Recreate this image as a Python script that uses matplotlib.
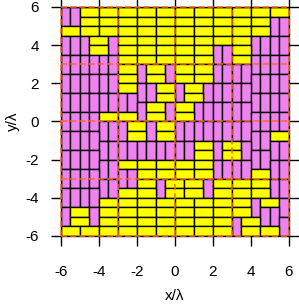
import matplotlib
matplotlib.use("Agg")
import matplotlib.pyplot as plt
from matplotlib.patches import Rectangle

# domino tiling on a 24x24 lattice of half-wavelength cells, top row first
# 'y' = cell of a horizontal (yellow) domino, 'v' = cell of a vertical (violet) domino
TILES = [
    "vvyyyyyyyyyyyyyyyyyyyyyy",
    "vvyyyyyyyyyyyyyyyyyyyyvv",
    "yyyyyyyyyyyyyyyyyyyyyyvv",
    "vvvyyvyyyyyyyyyyyyyyvvvv",
    "vvvyyvyyyyyyyyyyvvyyvvvv",
    "vvvvvvyyyyyyyyyyvvyyvvvv",
    "vvvvvvyyvyyvyyyyvvvvvvvv",
    "vvvvvvyyvyyvyyyyvvvvvvvv",
    "vvvvvvyyvvyyvyyvvvvvvvvv",
    "vvvvvvvvvvyyvyyvvvvvvvvv",
    "vvvvvvvvvyyvyyvvvvvvvvvv",
    "vvvvyyyyvyyvyyvvvvvvvvvv",
    "vvvvvvvyyvyyvvvvvvvvvvvv",
    "vvvvvvvyyvyyvvvvvvvvvvyy",
    "vvvvvvvvvvvvvvyyvyyvvvvv",
    "vvvvvvvvvvvvvvyyvyyvvvvv",
    "vvvvvvyyyyyyyyyyvvvvvvvv",
    "vvvvvvvvyyyyyyyyvvvvyyvv",
    "vvvvvvvvyyvyyyyvyyyyyyvv",
    "vvvvvvyyyyvyyyyvyyyyyyvv",
    "vvvvyyyyyyyyyyyyyyyyvyyv",
    "vyyvyyyyyyyyyyyyyyyyvvvv",
    "vyyvyyyyyyyyyyyyyyvyyvvv",
    "yyyyyyyyyyyyyyyyyyvyyyyv",
]
CELL = 0.5
X_MIN, Y_MAX = -6.0, 6.0
TICKS = [-6, -4, -2, 0, 2, 4, 6]
GRID_AT = [-3, 0, 3]

YELLOW = "#ffff00"
VIOLET = "#ee82ee"
ORANGE = "#ff6a1a"


def dominoes(tiles):
    rows, cols = len(tiles), len(tiles[0])
    used = [[False] * cols for _ in range(rows)]
    out = []
    for r in range(rows):
        for c in range(cols):
            if used[r][c]:
                continue
            if tiles[r][c] == "y":
                used[r][c] = used[r][c + 1] = True
                out.append(("h", r, c))
            else:
                used[r][c] = used[r + 1][c] = True
                out.append(("v", r, c))
    return out


plt.rcParams["font.family"] = ["Liberation Sans", "DejaVu Sans"]
fig = plt.figure(figsize=(2.99, 3.06), dpi=100)
ax = fig.add_axes([0.204, 0.2288, 0.7625, 0.7484])

for kind, r, c in dominoes(TILES):
    x = X_MIN + CELL * c
    if kind == "h":
        w, h, color = 2 * CELL, CELL, YELLOW
    else:
        w, h, color = CELL, 2 * CELL, VIOLET
    y = Y_MAX - CELL * r - h
    ax.add_patch(Rectangle((x, y), w, h, facecolor=color, edgecolor="black", linewidth=1.0))

for g in GRID_AT:
    ax.axvline(g, color=ORANGE, linewidth=1.1, linestyle=(0, (4, 2)), zorder=5)
    ax.axhline(g, color=ORANGE, linewidth=1.1, linestyle=(0, (4, 2)), zorder=5)
for g in (-6, 6):
    ax.axvline(g, color=ORANGE, linewidth=1.1, linestyle=(0, (4, 2)), zorder=6, clip_on=False)
    ax.axhline(g, color=ORANGE, linewidth=1.1, linestyle=(0, (4, 2)), zorder=6, clip_on=False)

ax.set_xlim(-6, 6)
ax.set_ylim(-6, 6)
ax.set_xticks(TICKS)
ax.set_yticks(TICKS)
ax.set_xticklabels([f"{t}" for t in TICKS])
ax.set_yticklabels([f"{t}" for t in TICKS])
ax.tick_params(direction="out", length=7, width=1, top=True, right=True, labelsize=11)
ax.tick_params(axis="x", pad=14)
ax.tick_params(axis="y", pad=9)
for s in ax.spines.values():
    s.set_linewidth(1.0)
ax.set_xlabel("x/λ", fontsize=11, labelpad=7)
ax.set_ylabel("y/λ", fontsize=11, labelpad=4)

fig.savefig("out.png", dpi=100)
